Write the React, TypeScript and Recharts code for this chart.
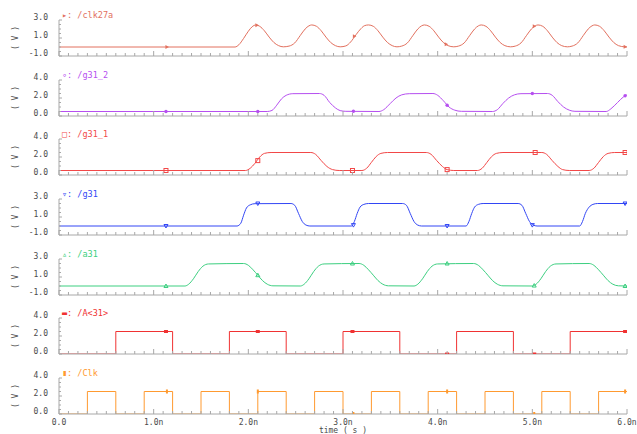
import React from 'react';
import { ComposedChart, Line, Scatter, XAxis, YAxis } from 'recharts';

const FONT = '"DejaVu Sans Mono", "Liberation Mono", monospace';
const AXIS = '#a8a8a8';
const TEXT = '#4a4a4a';

const xMajorLabels = ['0.0', '1.0n', '2.0n', '3.0n', '4.0n', '5.0n', '6.0n'];
const xTicks = Array.from({ length: 61 }, (_, i) => i / 10);
const yTicksA = [-1, -0.5, 0, 0.5, 1, 1.5, 2, 2.5, 3];
const yTicksB = [0, 0.5, 1, 1.5, 2, 2.5, 3, 3.5, 4];
const yLabelsA: Record<string, string> = { '-1': '-1.0', '1': '1.0', '3': '3.0' };
const yLabelsB: Record<string, string> = { '0': '0.0', '2': '2.0', '4': '4.0' };

type P = [number, number];

const clk27a: P[] = [
  [0, 0], [1.86, 0], [1.9, 0.25], [1.95, 0.95], [2.0, 1.75], [2.04, 2.25], [2.08, 2.45], [2.12, 2.3], [2.17, 1.8], [2.22, 1.1], [2.27, 0.5], [2.32, 0.15], [2.37, 0.02],
  [2.43, 0.1], [2.49, 0.45], [2.55, 1.3], [2.6, 2.0], [2.64, 2.35], [2.67, 2.45], [2.72, 2.3], [2.77, 1.8], [2.82, 1.1], [2.87, 0.5], [2.92, 0.15], [2.97, 0.02],
  [3.03, 0.12], [3.08, 0.55], [3.14, 1.4], [3.19, 2.05], [3.23, 2.38], [3.27, 2.45], [3.32, 2.3], [3.37, 1.8], [3.42, 1.1], [3.47, 0.5], [3.52, 0.15], [3.57, 0.02],
  [3.62, 0.1], [3.68, 0.45], [3.74, 1.3], [3.79, 2.0], [3.83, 2.35], [3.86, 2.45], [3.91, 2.3], [3.96, 1.8], [4.01, 1.1], [4.06, 0.5], [4.11, 0.15], [4.17, 0.02],
  [4.22, 0.1], [4.28, 0.45], [4.34, 1.3], [4.39, 2.0], [4.43, 2.35], [4.46, 2.45], [4.51, 2.3], [4.56, 1.8], [4.61, 1.1], [4.66, 0.5], [4.71, 0.15], [4.77, 0.02],
  [4.82, 0.1], [4.88, 0.45], [4.94, 1.3], [4.99, 2.0], [5.03, 2.35], [5.06, 2.45], [5.11, 2.3], [5.16, 1.8], [5.21, 1.1], [5.26, 0.5], [5.31, 0.15], [5.37, 0.02],
  [5.42, 0.1], [5.48, 0.45], [5.54, 1.3], [5.59, 2.0], [5.63, 2.35], [5.66, 2.45], [5.71, 2.3], [5.76, 1.8], [5.81, 1.1], [5.86, 0.5], [5.91, 0.15], [5.97, 0.02], [6.0, 0.0],
];
const clk27aMarks: P[] = [[1.14, 0], [2.09, 2.42], [3.12, 1.2], [4.09, 0.3], [5.02, 2.3], [5.98, 0.02]];

const g31_2: P[] = [
  [0, 0.5], [2.2, 0.5], [2.25, 0.62], [2.3, 1.2], [2.35, 1.9], [2.4, 2.3], [2.47, 2.48], [2.75, 2.5], [2.8, 2.3], [2.86, 1.5], [2.92, 0.9], [2.97, 0.6], [3.03, 0.52],
  [3.38, 0.5], [3.43, 0.7], [3.5, 1.4], [3.56, 2.0], [3.62, 2.35], [3.7, 2.48], [3.95, 2.5], [4.0, 2.3], [4.06, 1.7], [4.12, 1.0], [4.18, 0.65], [4.25, 0.52],
  [4.58, 0.5], [4.63, 0.7], [4.69, 1.4], [4.75, 2.0], [4.81, 2.35], [4.88, 2.48], [5.16, 2.5], [5.21, 2.3], [5.27, 1.6], [5.33, 1.0], [5.39, 0.65], [5.45, 0.52],
  [5.78, 0.5], [5.83, 0.8], [5.9, 1.5], [5.96, 2.1], [6.0, 2.35],
];
const g31_2Marks: P[] = [[1.13, 0.5], [2.1, 0.5], [3.11, 0.52], [4.1, 1.2], [5.0, 2.5], [5.98, 2.25]];

const g31_1: P[] = [
  [0, 0.5], [1.97, 0.5], [2.02, 0.75], [2.07, 1.3], [2.12, 2.0], [2.17, 2.4], [2.24, 2.5], [2.66, 2.5], [2.71, 2.3], [2.77, 1.6], [2.83, 0.95], [2.89, 0.6], [2.96, 0.5],
  [3.2, 0.5], [3.25, 0.75], [3.3, 1.4], [3.35, 2.05], [3.4, 2.4], [3.47, 2.5], [3.88, 2.5], [3.93, 2.3], [3.99, 1.6], [4.05, 0.95], [4.1, 0.6], [4.17, 0.5],
  [4.42, 0.5], [4.47, 0.75], [4.52, 1.4], [4.57, 2.05], [4.62, 2.4], [4.69, 2.5], [5.1, 2.5], [5.15, 2.3], [5.21, 1.6], [5.27, 0.95], [5.32, 0.6], [5.39, 0.5],
  [5.6, 0.5], [5.65, 0.75], [5.7, 1.4], [5.75, 2.05], [5.8, 2.4], [5.87, 2.5], [6.0, 2.5],
];
const g31_1Marks: P[] = [[1.13, 0.5], [2.1, 1.6], [3.1, 0.5], [4.1, 0.6], [5.03, 2.5], [5.98, 2.5]];

const g31: P[] = [
  [0, 0], [1.88, 0], [1.92, 0.3], [1.95, 1.2], [1.98, 2.0], [2.02, 2.35], [2.07, 2.48], [2.45, 2.5], [2.49, 2.3], [2.53, 1.4], [2.57, 0.5], [2.61, 0.1], [2.65, 0.0],
  [3.09, 0], [3.12, 0.5], [3.15, 1.4], [3.18, 2.1], [3.22, 2.4], [3.27, 2.5], [3.63, 2.5], [3.67, 2.3], [3.71, 1.4], [3.75, 0.5], [3.79, 0.1], [3.83, 0],
  [4.3, 0], [4.33, 0.5], [4.36, 1.4], [4.39, 2.1], [4.43, 2.4], [4.48, 2.5], [4.85, 2.5], [4.89, 2.3], [4.93, 1.4], [4.97, 0.5], [5.01, 0.1], [5.05, 0],
  [5.5, 0], [5.53, 0.5], [5.56, 1.4], [5.6, 2.1], [5.64, 2.4], [5.69, 2.5], [6.0, 2.5],
];
const g31Marks: P[] = [[1.13, 0], [2.1, 2.5], [3.11, 0.1], [4.1, 0], [5.0, 0.1], [5.98, 2.5]];

const a31: P[] = [
  [0, 0], [1.33, 0], [1.37, 0.2], [1.42, 0.8], [1.47, 1.6], [1.52, 2.2], [1.58, 2.45], [1.95, 2.5], [2.0, 2.3], [2.05, 1.8], [2.1, 1.2], [2.15, 0.6], [2.2, 0.2], [2.26, 0.02],
  [2.55, 0], [2.59, 0.2], [2.64, 0.8], [2.69, 1.6], [2.74, 2.2], [2.8, 2.45], [3.17, 2.5], [3.22, 2.3], [3.27, 1.8], [3.32, 1.2], [3.37, 0.6], [3.42, 0.2], [3.48, 0.02],
  [3.75, 0], [3.79, 0.2], [3.84, 0.8], [3.89, 1.6], [3.94, 2.2], [4.0, 2.45], [4.38, 2.5], [4.43, 2.3], [4.48, 1.8], [4.53, 1.2], [4.58, 0.6], [4.63, 0.2], [4.69, 0.02],
  [5.0, 0], [5.04, 0.2], [5.09, 0.8], [5.14, 1.6], [5.19, 2.2], [5.25, 2.45], [5.6, 2.5], [5.65, 2.3], [5.7, 1.8], [5.75, 1.2], [5.8, 0.6], [5.85, 0.2], [5.91, 0.02], [6.0, 0],
];
const a31Marks: P[] = [[1.13, 0], [2.1, 1.2], [3.1, 2.5], [4.1, 2.5], [5.02, 0.05], [5.98, 0]];

const A31: P[] = [
  [0, 0], [0.6, 0], [0.6, 2.5], [1.2, 2.5], [1.2, 0], [1.8, 0], [1.8, 2.5], [2.4, 2.5], [2.4, 0], [3.0, 0], [3.0, 2.5], [3.6, 2.5],
  [3.6, 0], [4.2, 0], [4.2, 2.5], [4.8, 2.5], [4.8, 0], [5.4, 0], [5.4, 2.5], [6.0, 2.5],
];
const A31Marks: P[] = [[1.13, 2.5], [2.1, 2.5], [3.1, 2.5], [4.1, 0], [5.02, 0], [5.98, 2.5]];

const Clk: P[] = [
  [0, 0], [0.3, 0], [0.3, 2.5], [0.6, 2.5], [0.6, 0], [0.9, 0], [0.9, 2.5], [1.2, 2.5], [1.2, 0], [1.5, 0], [1.5, 2.5], [1.8, 2.5], [1.8, 0],
  [2.1, 0], [2.1, 2.5], [2.4, 2.5], [2.4, 0], [2.7, 0], [2.7, 2.5], [3.0, 2.5], [3.0, 0], [3.3, 0], [3.3, 2.5], [3.6, 2.5], [3.6, 0],
  [3.9, 0], [3.9, 2.5], [4.2, 2.5], [4.2, 0], [4.5, 0], [4.5, 2.5], [4.8, 2.5], [4.8, 0], [5.1, 0], [5.1, 2.5], [5.4, 2.5], [5.4, 0],
  [5.7, 0], [5.7, 2.5], [6.0, 2.5],
];
const ClkMarks: P[] = [[1.14, 2.5], [2.1, 2.5], [3.11, 0], [4.1, 2.5], [5.02, 0], [5.98, 2.5]];

const toPts = (a: P[]) => a.map(([t, v]) => ({ t, v }));

type Shape = 'triR' | 'circ' | 'sq' | 'triD' | 'triU' | 'bar' | 'vbar';

const panels = [
  { name: '/clk27a', glyph: '▸', color: '#e2705e', data: clk27a, marks: clk27aMarks, shape: 'triR' as Shape, range: 'A', smooth: true },
  { name: '/g31_2', glyph: '∘', color: '#b64ff0', data: g31_2, marks: g31_2Marks, shape: 'circ' as Shape, range: 'B', smooth: true },
  { name: '/g31_1', glyph: '□', color: '#f24848', data: g31_1, marks: g31_1Marks, shape: 'sq' as Shape, range: 'B', smooth: true },
  { name: '/g31', glyph: '▿', color: '#3246f5', data: g31, marks: g31Marks, shape: 'triD' as Shape, range: 'A', smooth: true },
  { name: '/a31', glyph: '▵', color: '#3ccf80', data: a31, marks: a31Marks, shape: 'triU' as Shape, range: 'A', smooth: true },
  { name: '/A<31>', glyph: '▬', color: '#f03232', data: A31, marks: A31Marks, shape: 'bar' as Shape, range: 'B', smooth: false },
  { name: '/Clk', glyph: '▮', color: '#ff9a30', data: Clk, marks: ClkMarks, shape: 'vbar' as Shape, range: 'B', smooth: false },
];

const PANEL_TOPS = [0, 60, 119, 179, 239, 298, 358];
const PLOT_TOP = 20;
const PLOT_H = 36;
const LEFT = 59;
const RIGHT = 10;
const W = 637;

const makeShape = (shape: Shape, color: string) => (props: any) => {
  const { cx, cy } = props;
  if (cx == null || cy == null) return <g />;
  switch (shape) {
    case 'triR':
      return <polygon points={`${cx - 1.5},${cy - 2} ${cx + 2},${cy} ${cx - 1.5},${cy + 2}`} fill={color} />;
    case 'circ':
      return <circle cx={cx} cy={cy} r={1.7} fill={color} />;
    case 'sq':
      return <rect x={cx - 2} y={cy - 2} width={4} height={4} fill="none" stroke={color} strokeWidth={1} />;
    case 'triD':
      return <polygon points={`${cx - 2},${cy - 1.5} ${cx + 2},${cy - 1.5} ${cx},${cy + 2}`} fill="none" stroke={color} strokeWidth={1} />;
    case 'triU':
      return <polygon points={`${cx - 2},${cy + 1.5} ${cx + 2},${cy + 1.5} ${cx},${cy - 2}`} fill="none" stroke={color} strokeWidth={1} />;
    case 'bar':
      return <rect x={cx - 2} y={cy - 1.5} width={4} height={3} fill={color} />;
    case 'vbar':
    default:
      return <rect x={cx - 1} y={cy - 2} width={2} height={4} fill={color} />;
  }
};

const XTick = (props: any) => {
  const { x, y, payload, showLabel } = props;
  const v = payload.value as number;
  const major = Math.abs(v - Math.round(v)) < 1e-6;
  const label = major ? xMajorLabels[Math.round(v)] : null;
  return (
    <g>
      <line x1={x} x2={x} y1={y} y2={y - (major ? 5 : 3)} stroke={AXIS} strokeWidth={1} />
      {showLabel && label && (
        <text x={x} y={y + 8} textAnchor="middle" dominantBaseline="central" fontFamily={FONT} fontSize={8} fill={TEXT}>
          {label}
        </text>
      )}
    </g>
  );
};

const YTick = (props: any) => {
  const { x, y, payload, labels } = props;
  const lab = labels[String(payload.value)];
  return (
    <g>
      <line x1={x} x2={x + (lab ? 3 : 2)} y1={y} y2={y} stroke={AXIS} strokeWidth={1} />
      {lab && (
        <text x={x - 11} y={y - 3} textAnchor="end" dominantBaseline="central" fontFamily={FONT} fontSize={8} fill={TEXT}>
          {lab}
        </text>
      )}
    </g>
  );
};

const Panel = ({ p, idx }: { p: (typeof panels)[number]; idx: number }) => {
  const last = idx === panels.length - 1;
  const H = last ? 76 : 60;
  const bottom = H - PLOT_TOP - PLOT_H;
  const isA = p.range === 'A';
  return (
    <div style={{ position: 'absolute', left: 0, top: PANEL_TOPS[idx] }}>
      <ComposedChart width={W} height={H} margin={{ top: PLOT_TOP, right: RIGHT, bottom: 0, left: 0 }}>
        <XAxis
          type="number"
          dataKey="t"
          domain={[0, 6]}
          ticks={xTicks}
          interval={0}
          allowDataOverflow
          height={bottom}
          tickSize={0}
          tickMargin={0}
          tickLine={false}
          axisLine={{ stroke: AXIS }}
          tick={<XTick showLabel={last} />}
        />
        <YAxis
          type="number"
          domain={isA ? [-1, 3] : [0, 4]}
          ticks={isA ? yTicksA : yTicksB}
          interval={0}
          allowDataOverflow
          width={LEFT}
          tickSize={0}
          tickMargin={0}
          tickLine={false}
          axisLine={{ stroke: AXIS }}
          tick={<YTick labels={isA ? yLabelsA : yLabelsB} />}
        />
        <Line
          data={toPts(p.data)}
          dataKey="v"
          type={p.smooth ? 'monotone' : 'linear'}
          stroke={p.color}
          strokeWidth={1}
          dot={false}
          activeDot={false}
          isAnimationActive={false}
        />
        <Scatter data={toPts(p.marks)} dataKey="v" fill={p.color} shape={makeShape(p.shape, p.color)} isAnimationActive={false} />
      </ComposedChart>
    </div>
  );
};

export default function App() {
  return (
    <div style={{ position: 'absolute', left: 0, top: 0, width: W, height: 434, background: '#fff', overflow: 'hidden' }}>
      {panels.map((p, i) => (
        <Panel key={p.name} p={p} idx={i} />
      ))}
      <svg width={W} height={434} style={{ position: 'absolute', left: 0, top: 0, pointerEvents: 'none' }}>
        {panels.map((p, i) => {
          const top = PANEL_TOPS[i] + PLOT_TOP;
          return (
            <g key={p.name}>
              <text x={62} y={top - 5} dominantBaseline="central" fontFamily={FONT} fontSize={8.5} fill={p.color}>
                {`${p.glyph}: ${p.name}`}
              </text>
              <text
                x={15}
                y={top + PLOT_H / 2}
                textAnchor="middle"
                dominantBaseline="central"
                fontFamily={FONT}
                fontSize={8}
                fill={TEXT}
                transform={`rotate(-90 15 ${top + PLOT_H / 2})`}
              >
                ( V )
              </text>
            </g>
          );
        })}
        <text x={343} y={430} textAnchor="middle" dominantBaseline="central" fontFamily={FONT} fontSize={8} fill={TEXT}>
          time ( s )
        </text>
      </svg>
    </div>
  );
}
